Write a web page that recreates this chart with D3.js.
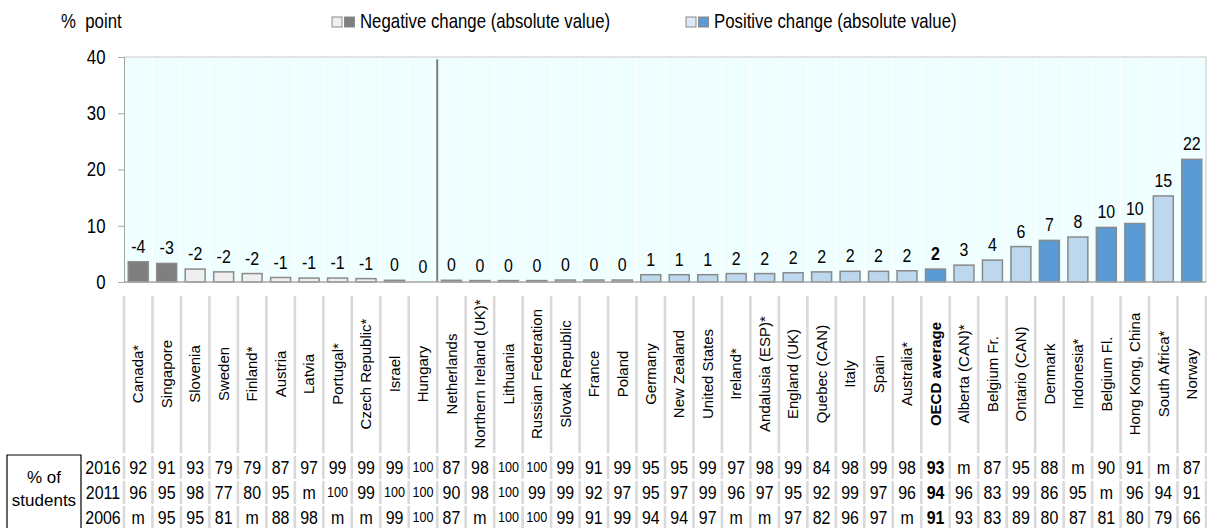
<html>
<head>
<meta charset="utf-8">
<script src="https://d3js.org/d3.v7.min.js"></script>
<style>
body { margin: 0; background: #fff; }
text { font-family: "Liberation Sans", Arial, sans-serif; }
</style>
</head>
<body>
<div id="chart"></div>
<script>
// categories, left to right
const countries = ["Canada*", "Singapore", "Slovenia", "Sweden", "Finland*", "Austria", "Latvia",
  "Portugal*", "Czech Republic*", "Israel", "Hungary", "Netherlands", "Northern Ireland (UK)*",
  "Lithuania", "Russian Federation", "Slovak Republic", "France", "Poland", "Germany",
  "New Zealand", "United States", "Ireland*", "Andalusia (ESP)*", "England (UK)", "Quebec (CAN)",
  "Italy", "Spain", "Australia*", "OECD average", "Alberta (CAN)*", "Belgium Fr.", "Ontario (CAN)",
  "Denmark", "Indonesia*", "Belgium Fl.", "Hong Kong, China", "South Africa*", "Norway"];

// change in % points (signed), bar height = absolute value
const change = [-3.6, -3.3, -2.3, -1.8, -1.5, -0.8, -0.7, -0.7, -0.6, -0.3, 0,
  0.3, 0.25, 0.25, 0.25, 0.35, 0.35, 0.35, 1.3, 1.3, 1.3, 1.5, 1.5, 1.65, 1.8,
  1.9, 1.9, 2.0, 2.3, 3.0, 3.9, 6.3, 7.4, 8.0, 9.7, 10.4, 15.3, 21.8];
// label printed above each bar
const shown = [-4, -3, -2, -2, -2, -1, -1, -1, -1, 0, 0, 0, 0, 0, 0, 0, 0, 0, 1, 1, 1,
  2, 2, 2, 2, 2, 2, 2, 2, 3, 4, 6, 7, 8, 10, 10, 15, 22];
// 1 = significant change (dark fill)
const signif = [1, 1, 0, 0, 0, 0, 0, 0, 0, 0, 0, 0, 0, 0, 0, 0, 0, 0, 0, 0, 0,
  0, 0, 0, 0, 0, 0, 0, 1, 0, 0, 0, 1, 0, 1, 1, 0, 1];

const years = ["2016", "2011", "2006"];
const p2016 = ["92","91","93","79","79","87","97","99","99","99","100","87","98","100","100","99","91",
  "99","95","95","99","97","98","99","84","98","99","98","93","m","87","95","88","m","90","91","m","87"];
const p2011 = ["96","95","98","77","80","95","m","100","99","100","100","90","98","100","99","99","92",
  "97","95","97","99","96","97","95","92","99","97","96","94","96","83","99","86","95","m","96","94","91"];
const p2006 = ["m","95","95","81","m","88","98","m","m","99","100","87","m","100","100","99","91",
  "99","94","94","97","m","m","97","82","96","97","m","91","93","83","89","80","87","81","80","79","66"];
const yTicks = [0, 10, 20, 30, 40];

const W = 1207, H = 528;
const pLeft = 124, pRight = 1206, pTop = 57, pBase = 282;
const OECD = "OECD average";
const NS = 0.84; // horizontal squeeze to mimic a narrow font

const svg = d3.select("#chart").append("svg")
  .attr("width", W).attr("height", H);

// place a text at (px,py) squeezed horizontally
const narrow = (sel, px, py) => sel.attr("transform", (d, i) =>
  `translate(${typeof px === "function" ? px(d, i) : px},${typeof py === "function" ? py(d, i) : py}) scale(${NS},1)`);

const x = d3.scaleBand().domain(countries).range([pLeft, pRight])
  .paddingInner(0.3).paddingOuter(0.15);
const y = d3.scaleLinear().domain([0, 40]).range([pBase, pTop]);
const step = x.step();
const bnd = d => x(d) - x.paddingInner() * step / 2;
const mid = d => x(d) + x.bandwidth() / 2;

// plot background
svg.append("rect").attr("x", pLeft).attr("y", pTop)
  .attr("width", pRight - pLeft).attr("height", pBase - pTop)
  .attr("fill", "#effefe");
svg.append("g").selectAll("line").data(countries.slice(1)).join("line")
  .attr("x1", d => bnd(d)).attr("x2", d => bnd(d))
  .attr("y1", pTop).attr("y2", pBase)
  .attr("stroke", "#fff").attr("stroke-width", 1);
svg.append("path")
  .attr("d", `M${pLeft},${pTop}H${pRight}V${pBase}`)
  .attr("fill", "none").attr("stroke", "#c8c8c8");

// separator between Hungary and Netherlands
const sx = bnd("Netherlands");
svg.append("line").attr("x1", sx).attr("x2", sx).attr("y1", y(39.6)).attr("y2", pBase)
  .attr("stroke", "#7f7f7f").attr("stroke-width", 2);

const fillOf = (v, s) => v < 0 ? (s ? "#7f7f7f" : "#efefef") : (s ? "#5b9bd5" : "#bdd7ee");
const data = countries.map((c, i) => ({c, v: change[i], s: signif[i], lab: shown[i]}));

svg.append("g").selectAll("rect").data(data.filter(d => d.v !== 0)).join("rect")
  .attr("x", d => x(d.c)).attr("width", x.bandwidth())
  .attr("y", d => y(Math.abs(d.v))).attr("height", d => pBase - y(Math.abs(d.v)))
  .attr("fill", d => fillOf(d.v, d.s))
  .attr("stroke", "#8a8a8a").attr("stroke-width", 1.5);

svg.append("g").selectAll("text").data(data).join("text")
  .call(narrow, d => mid(d.c), d => y(Math.abs(d.v)) - 9)
  .attr("text-anchor", "middle").attr("font-size", 19)
  .attr("font-weight", d => d.c === OECD ? "bold" : "normal")
  .text(d => d.lab);

// baseline
svg.append("line").attr("x1", pLeft).attr("x2", pRight).attr("y1", pBase).attr("y2", pBase)
  .attr("stroke", "#a6a6a6").attr("stroke-width", 1.5);

// y axis
const yAxis = svg.append("g").attr("transform", `translate(${pLeft},0)`)
  .call(d3.axisLeft(y).tickValues(yTicks).tickSize(6).tickPadding(16));
yAxis.select(".domain").attr("stroke", "#a6a6a6");
yAxis.selectAll(".tick line").attr("stroke", "#a6a6a6");
yAxis.selectAll("text").attr("font-size", 20).attr("fill", "#000")
  .attr("font-family", null).attr("transform", `scale(${NS},1)`);

svg.append("text").call(narrow, 61, 28)
  .attr("font-size", 20).attr("xml:space", "preserve").text("%  point");

// legend
const legend = [
  {x: 332, cols: ["#efefef", "#7f7f7f"], t: "Negative change (absolute value)"},
  {x: 686, cols: ["#dbe8f5", "#5b9bd5"], t: "Positive change (absolute value)"}
];
const lg = svg.append("g").selectAll("g").data(legend).join("g")
  .attr("transform", d => `translate(${d.x},0)`);
lg.selectAll("rect").data(d => d.cols).join("rect")
  .attr("x", (d, i) => i * 12.5).attr("y", 17).attr("width", 10).attr("height", 10)
  .attr("fill", d => d).attr("stroke", "#8a8a8a").attr("stroke-width", 1);
lg.append("text").call(narrow, 28, 28)
  .attr("font-size", 20).text(d => d.t);

// column separators under the chart (label area + table rows)
const segs = [[296, 453], [456, 479], [481, 504], [506, 528]];
const cuts = countries.map(bnd).concat([pRight]);
segs.forEach(s => {
  svg.append("g").selectAll("line").data(cuts).join("line")
    .attr("x1", d => d).attr("x2", d => d).attr("y1", s[0]).attr("y2", s[1])
    .attr("stroke", "#d9d9d9").attr("stroke-width", 2.6);
});

// category labels
svg.append("g").selectAll("text").data(countries).join("text")
  .attr("font-size", 15)
  .attr("font-weight", d => d === OECD ? "bold" : "normal")
  .attr("text-anchor", "middle").attr("dy", "0.35em")
  .attr("transform", d => `translate(${mid(d)},374) rotate(-90)`)
  .text(d => d);

// table
svg.append("path").attr("d", "M7,530V455H81V530")
  .attr("fill", "none").attr("stroke", "#000").attr("stroke-width", 1.2);
svg.append("text").attr("font-size", 17).attr("text-anchor", "middle")
  .selectAll("tspan").data(["% of", "students"]).join("tspan")
  .attr("x", 44).attr("y", (d, i) => 483 + i * 23).text(d => d);

const rows = [p2016, p2011, p2006];
rows.forEach((r, k) => {
  const cy = 467 + k * 25;
  svg.append("text").call(narrow, 103, cy).attr("font-size", 19)
    .attr("dy", "0.35em").attr("text-anchor", "middle")
    .text(years[k]);
  svg.append("g").selectAll("text").data(r).join("text")
    .call(narrow, (d, i) => mid(countries[i]), cy)
    .attr("font-size", d => d === "100" ? 15 : 19)
    .attr("font-weight", (d, i) => countries[i] === OECD ? "bold" : "normal")
    .attr("dy", "0.35em").attr("text-anchor", "middle")
    .text(d => d);
});
</script>
</body>
</html>
